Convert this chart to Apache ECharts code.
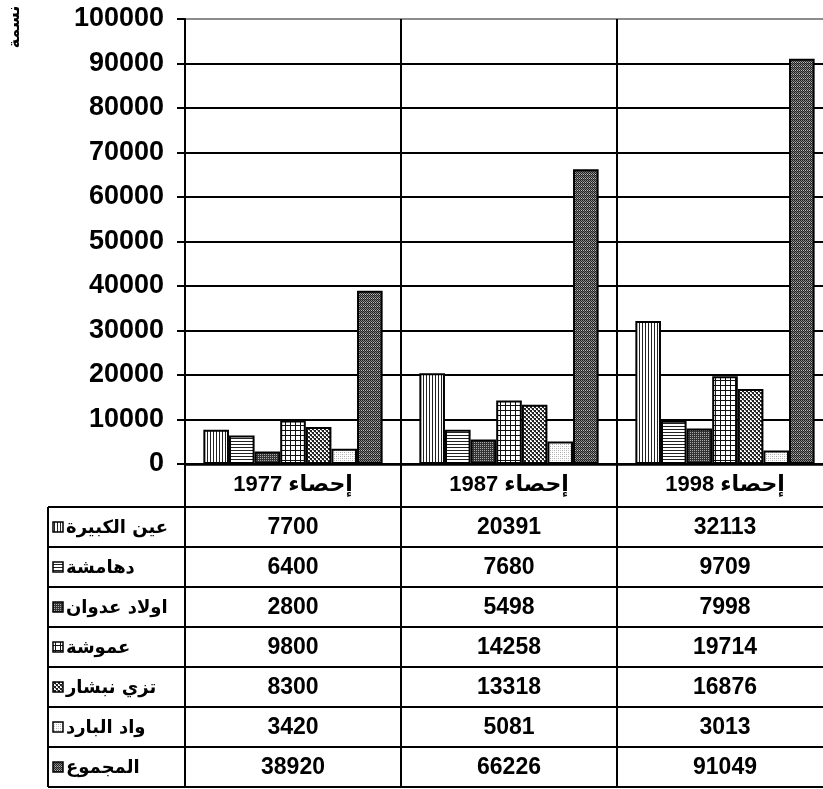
<!DOCTYPE html>
<html>
<head>
<meta charset="utf-8">
<script src="https://cdn.jsdelivr.net/npm/echarts@6/dist/echarts.min.js"></script>
<style>
html,body{margin:0;padding:0;background:#fff;overflow:hidden;width:823px;height:789px;}
#chart{width:850px;height:789px;}
</style>
</head>
<body>
<div id="chart"></div>
<script>
// ---- data ----
const categories = ['إحصاء 1977', 'إحصاء 1987', 'إحصاء 1998'];
const seriesNames = ['عين الكبيرة', 'دهامشة', 'اولاد عدوان', 'عموشة', 'تزي نبشار', 'واد البارد', 'المجموع'];
const ainKabira = [7700, 20391, 32113];
const dhamsha = [6400, 7680, 9709];
const ouledAdouane = [2800, 5498, 7998];
const amoucha = [9800, 14258, 19714];
const tiziNbechar = [8300, 13318, 16876];
const ouedBared = [3420, 5081, 3013];
const total = [38920, 66226, 91049];
const yTicks = [0, 10000, 20000, 30000, 40000, 50000, 60000, 70000, 80000, 90000, 100000];
const yAxisTitle = 'نسمة';

const seriesValues = [ainKabira, dhamsha, ouledAdouane, amoucha, tiziNbechar, ouedBared, total];

// ---- patterns ----
function makePattern(size, draw) {
  const c = document.createElement('canvas');
  c.width = size; c.height = size;
  const ctx = c.getContext('2d');
  ctx.fillStyle = '#fff';
  ctx.fillRect(0, 0, size, size);
  draw(ctx);
  return { image: c, repeat: 'repeat' };
}
const patterns = [
  makePattern(3, ctx => { ctx.fillStyle = '#222'; ctx.fillRect(0, 0, 1, 3); }),
  makePattern(3, ctx => { ctx.fillStyle = '#222'; ctx.fillRect(0, 0, 3, 1); }),
  makePattern(4, ctx => { ctx.fillStyle = '#333'; ctx.fillRect(0, 0, 4, 4); ctx.fillStyle = '#aaa'; ctx.fillRect(0, 0, 1, 1); ctx.fillRect(2, 2, 1, 1); ctx.fillRect(2,0,1,1); ctx.fillRect(0,2,1,1); }),
  makePattern(5, ctx => { ctx.fillStyle = '#111'; ctx.fillRect(0, 0, 5, 1); ctx.fillRect(0, 0, 1, 5); }),
  makePattern(4, ctx => { ctx.fillStyle = '#222'; ctx.fillRect(0, 0, 2, 2); ctx.fillRect(2, 2, 2, 2); ctx.fillStyle='#888'; ctx.fillRect(1,2,1,1); ctx.fillRect(3,0,1,1); }),
  makePattern(4, ctx => { ctx.fillStyle = '#aaa'; ctx.fillRect(0, 0, 1, 1); ctx.fillRect(2, 2, 1, 1); ctx.fillStyle='#ccc'; ctx.fillRect(2,0,1,1); ctx.fillRect(0,2,1,1); }),
  makePattern(4, ctx => { ctx.fillStyle = '#222'; ctx.fillRect(0, 0, 4, 4); ctx.fillStyle = '#888'; ctx.fillRect(1, 0, 1, 1); ctx.fillRect(3, 0, 1, 1); ctx.fillRect(0, 1, 1, 1); ctx.fillRect(2, 1, 1, 1); ctx.fillStyle='#bbb'; ctx.fillRect(1,2,1,1); ctx.fillRect(3,2,1,1); ctx.fillStyle='#666'; ctx.fillRect(0,3,1,1); ctx.fillRect(2,3,1,1); })
];

const FONT_NUM = '"Liberation Sans", Arial, "DejaVu Sans", sans-serif';
const FONT_AR = '"DejaVu Sans", "Liberation Sans", sans-serif';

const gridLeft = 185, gridTop = 19, gridWidth = 648, gridHeight = 445;
const splitColors = yTicks.map((v, i) => i === yTicks.length - 1 ? '#8c8c8c' : '#000');

const chart = echarts.init(document.getElementById('chart'), null, { renderer: 'canvas' });

chart.setOption({
  backgroundColor: '#fff',
  animation: false,
  grid: { left: gridLeft, top: gridTop, width: gridWidth, height: gridHeight, containLabel: false },
  xAxis: {
    type: 'category',
    data: categories,
    boundaryGap: true,
    axisLine: { show: true, lineStyle: { color: '#000', width: 2.5 } },
    axisTick: { show: false },
    splitLine: { show: true, interval: 0, lineStyle: { color: '#000', width: 2 } },
    axisLabel: {
      show: true, interval: 0, margin: 21, verticalAlign: 'middle',
      color: '#000', fontWeight: 'bold', fontSize: 22, fontFamily: FONT_NUM
    }
  },
  yAxis: {
    type: 'value',
    min: 0, max: 100000, interval: 10000,
    axisLine: { show: true, lineStyle: { color: '#000', width: 2 } },
    axisTick: { show: true, inside: false, length: 8, lineStyle: { color: '#000', width: 2 } },
    splitLine: { show: true, lineStyle: { color: splitColors, width: 2 } },
    axisLabel: {
      show: true, margin: 21, color: '#000', fontWeight: 'bold', fontSize: 27, fontFamily: FONT_NUM,
      formatter: v => String(v)
    }
  },
  series: seriesNames.map((name, i) => ({
    name: name,
    type: 'bar',
    data: seriesValues[i],
    barGap: '0%',
    barCategoryGap: '17%',
    itemStyle: { color: patterns[i], borderColor: '#000', borderWidth: 2 }
  }))
});

// ---- data table drawn below the axis ----
const xAxisY = gridTop + gridHeight;
const headerBottom = 507;
const rowH = 40;
const tableLeft = 48;
const tableRight = gridLeft + gridWidth;
const boundaries = [gridLeft, gridLeft + gridWidth / 3, gridLeft + 2 * gridWidth / 3, gridLeft + gridWidth];

const graphics = [];
const lineStyle = { stroke: '#000', lineWidth: 2 };
for (let r = 0; r <= seriesNames.length; r++) {
  const y = headerBottom + r * rowH;
  graphics.push({ type: 'line', shape: { x1: tableLeft, y1: y, x2: tableRight, y2: y }, style: lineStyle, z: 10 });
}
graphics.push({ type: 'line', shape: { x1: tableLeft, y1: headerBottom, x2: tableLeft, y2: headerBottom + seriesNames.length * rowH }, style: lineStyle, z: 10 });
boundaries.forEach(x => {
  graphics.push({ type: 'line', shape: { x1: x, y1: xAxisY, x2: x, y2: headerBottom + seriesNames.length * rowH }, style: lineStyle, z: 10 });
});
seriesNames.forEach((name, r) => {
  const cy = headerBottom + r * rowH + rowH / 2;
  graphics.push({
    type: 'rect', shape: { x: 53, y: cy - 5, width: 10, height: 10 },
    style: { fill: patterns[r], stroke: '#000', lineWidth: 1.5 }, z: 10
  });
  graphics.push({
    type: 'text', x: 66, y: cy + 1,
    style: { text: name, font: 'bold 18px ' + FONT_AR, fill: '#000', align: 'left', verticalAlign: 'middle', textAlign: 'left', textVerticalAlign: 'middle' }, z: 10
  });
  categories.forEach((cat, c) => {
    const cx = chart.convertToPixel({ xAxisIndex: 0 }, cat);
    graphics.push({
      type: 'text', x: cx, y: cy + 1,
      style: { text: String(seriesValues[r][c]), font: 'bold 23px ' + FONT_NUM, fill: '#000', align: 'center', verticalAlign: 'middle', textAlign: 'center', textVerticalAlign: 'middle' }, z: 10
    });
  });
});
graphics.push({
  type: 'text', x: 15, y: 27, rotation: Math.PI / 2,
  style: { text: yAxisTitle, font: 'bold 16px ' + FONT_AR, fill: '#000', align: 'center', verticalAlign: 'middle', textAlign: 'center', textVerticalAlign: 'middle' }, z: 10
});

chart.setOption({ graphic: graphics });
</script>
</body>
</html>
